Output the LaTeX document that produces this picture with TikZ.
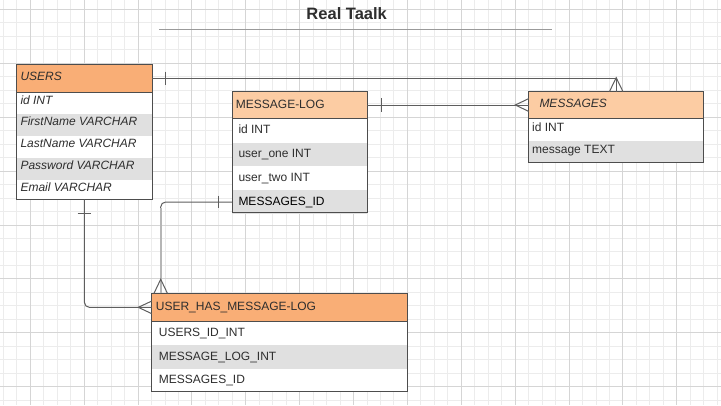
\documentclass[tikz,border=0pt]{standalone}
\usepackage{fontspec}
\setmainfont{Liberation Sans}
\usetikzlibrary{calc}
\definecolor{gridminor}{HTML}{ECECEC}
\definecolor{gridmajor}{HTML}{D5D5D5}
\definecolor{hdrorange}{HTML}{F9AE76}
\definecolor{hdrpeach}{HTML}{FCCCA3}
\definecolor{rowgray}{HTML}{E0E0E0}
\definecolor{edgecol}{HTML}{4D4D4D}
\definecolor{ink}{HTML}{2E2E2E}
\definecolor{wire}{HTML}{5E5E5E}
\definecolor{wirelight}{HTML}{B5B5B5}
\definecolor{rulecol}{HTML}{9A9A9A}
\tikzset{
  tbl/.style={rectangle, anchor=north west, inner sep=0pt, fill=white, draw=none},
  cell/.style={rectangle, anchor=north west, inner sep=0pt, draw=none},
  outline/.style={draw=edgecol, line width=1pt},
  lbl/.style={anchor=west, inner sep=0pt, text=ink, font=\fontsize{12}{14}\selectfont, text height=8.6pt, text depth=0pt, yshift=1pt},
  lbli/.style={lbl, font=\fontsize{12}{14}\selectfont\itshape, yshift=0.8pt},
  conn/.style={draw=wire, line width=1pt},
  minorline/.style={draw=gridminor, line width=1pt},
  majorline/.style={draw=gridmajor, line width=1pt}
}
\begin{document}
\begin{tikzpicture}[x=1pt,y=-1pt]
\useasboundingbox (0,0) rectangle (721,405);
\fill[white] (0,0) rectangle (721,405);
% grid
\foreach \i in {0,...,53} \draw[minorline] ({3.36+13.47*\i},0) -- ({3.36+13.47*\i},405);
\foreach \i in {0,...,29} \draw[minorline] (0,{9.5+13.47*\i}) -- (721,{9.5+13.47*\i});
\foreach \i in {0,...,12} \draw[majorline] ({30.3+53.88*\i},0) -- ({30.3+53.88*\i},405);
\foreach \i in {0,...,7} \draw[majorline] (0,{9.5+53.88*\i}) -- (721,{9.5+53.88*\i});

% title
\node[inner sep=0pt, text=ink, font=\fontsize{16.5}{18}\selectfont\bfseries] (title) at (346.7,14) {Real Taalk};
\draw[draw=rulecol, line width=1.4pt] (159,29.3) -- (551.7,29.3);

% USERS
\node[tbl, minimum width=135pt, minimum height=134.9pt] (users) at (16.7,64.3) {};
\node[cell, fill=hdrorange, minimum width=135pt, minimum height=27.4pt] (usersh) at (users.north west) {};
\node[cell, minimum width=135pt, minimum height=21.5pt] (users1) at (usersh.south west) {};
\node[cell, fill=rowgray, minimum width=135pt, minimum height=21.5pt] (users2) at (users1.south west) {};
\node[cell, minimum width=135pt, minimum height=21.5pt] (users3) at (users2.south west) {};
\node[cell, fill=rowgray, minimum width=135pt, minimum height=21.5pt] (users4) at (users3.south west) {};
\node[cell, minimum width=135pt, minimum height=21.5pt] (users5) at (users4.south west) {};
\draw[outline] (users.north west) rectangle (users.south east);
\draw[outline] (usersh.south west) -- (usersh.south east);
\node[lbli, yshift=0.5pt] (usersht) at ($(usersh.west)+(3.6,0)$) {USERS};
\node[lbli, yshift=1.5pt] (users1t) at ($(users1.west)+(3.6,0)$) {id INT};
\node[lbli, yshift=1.5pt] (users2t) at ($(users2.west)+(3.6,0)$) {FirstName VARCHAR};
\node[lbli, yshift=1.5pt] (users3t) at ($(users3.west)+(3.6,0)$) {LastName VARCHAR};
\node[lbli, yshift=1.5pt] (users4t) at ($(users4.west)+(3.6,0)$) {Password VARCHAR};
\node[lbli, yshift=1.5pt] (users5t) at ($(users5.west)+(3.6,0)$) {Email VARCHAR};

% MESSAGE-LOG
\node[tbl, minimum width=134.7pt, minimum height=120.6pt] (mlog) at (232,91.3) {};
\node[cell, fill=hdrpeach, minimum width=134.7pt, minimum height=27pt] (mlogh) at (mlog.north west) {};
\node[cell, minimum width=134.7pt, minimum height=23.4pt] (mlog1) at (mlogh.south west) {};
\node[cell, fill=rowgray, minimum width=134.7pt, minimum height=23.4pt] (mlog2) at (mlog1.south west) {};
\node[cell, minimum width=134.7pt, minimum height=23.4pt] (mlog3) at (mlog2.south west) {};
\node[cell, fill=rowgray, minimum width=134.7pt, minimum height=23.4pt] (mlog4) at (mlog3.south west) {};
\draw[outline] (mlog.north west) rectangle (mlog.south east);
\draw[outline] (mlogh.south west) -- (mlogh.south east);
\node[lbl] (mloght) at ($(mlogh.west)+(3.7,0)$) {MESSAGE-LOG};
\node[lbl] (mlog1t) at ($(mlog1.west)+(6.3,0)$) {id INT};
\node[lbl] (mlog2t) at ($(mlog2.west)+(6.3,0)$) {user\_one INT};
\node[lbl] (mlog3t) at ($(mlog3.west)+(6.3,0)$) {user\_two INT};
\node[lbl, text=black] (mlog4t) at ($(mlog4.west)+(6.3,0)$) {MESSAGES\_ID};

% MESSAGES
\node[tbl, minimum width=174.6pt, minimum height=70pt] (msgs) at (528.7,91.7) {};
\node[cell, fill=hdrpeach, minimum width=174.6pt, minimum height=26.6pt] (msgsh) at (msgs.north west) {};
\node[cell, minimum width=174.6pt, minimum height=21.7pt] (msgs1) at (msgsh.south west) {};
\node[cell, fill=rowgray, minimum width=174.6pt, minimum height=21.7pt] (msgs2) at (msgs1.south west) {};
\draw[outline] (msgs.north west) rectangle (msgs.south east);
\draw[outline] (msgsh.south west) -- (msgsh.south east);
\node[lbli] (msgsht) at ($(msgsh.west)+(10.6,0)$) {MESSAGES};
\node[lbl, yshift=1.5pt] (msgs1t) at ($(msgs1.west)+(3.3,0)$) {id INT};
\node[lbl, yshift=1.5pt] (msgs2t) at ($(msgs2.west)+(3.3,0)$) {message TEXT};

% USER_HAS_MESSAGE-LOG
\node[tbl, minimum width=255.6pt, minimum height=97.6pt] (uhml) at (151.7,293.3) {};
\node[cell, fill=hdrorange, minimum width=255.6pt, minimum height=27.7pt] (uhmlh) at (uhml.north west) {};
\node[cell, minimum width=255.6pt, minimum height=23.3pt] (uhml1) at (uhmlh.south west) {};
\node[cell, fill=rowgray, minimum width=255.6pt, minimum height=23.3pt] (uhml2) at (uhml1.south west) {};
\node[cell, minimum width=255.6pt, minimum height=23.3pt] (uhml3) at (uhml2.south west) {};
\draw[outline] (uhml.north west) rectangle (uhml.south east);
\draw[outline] (uhmlh.south west) -- (uhmlh.south east);
\node[lbl] (uhmlht) at ($(uhmlh.west)+(4,0)$) {USER\_HAS\_MESSAGE-LOG};
\node[lbl] (uhml1t) at ($(uhml1.west)+(7,0)$) {USERS\_ID\_INT};
\node[lbl] (uhml2t) at ($(uhml2.west)+(7,0)$) {MESSAGE\_LOG\_INT};
\node[lbl] (uhml3t) at ($(uhml3.west)+(7,0)$) {MESSAGES\_ID};

% connector USERS -> MESSAGES
\draw[conn] (usersh.east) -| (msgsh.north);
\draw[conn] ($(usersh.east)+(13.5,-6.7)$) -- ($(usersh.east)+(13.5,6.7)$);
\draw[conn] ($(msgsh.north)+(-6.8,0)$) -- ($(msgsh.north)+(0,-14)$) -- ($(msgsh.north)+(6.8,0)$);

% connector MESSAGE-LOG -> MESSAGES
\draw[conn] (mlogh.east) -- (mlogh.east -| msgsh.west);
\draw[conn] ($(mlogh.east)+(14,-6.7)$) -- ($(mlogh.east)+(14,6.7)$);
\draw[conn] ($(mlogh.east -| msgsh.west)+(0,-6.4)$) -- ($(mlogh.east -| msgsh.west)+(-13.4,0)$) -- ($(mlogh.east -| msgsh.west)+(0,6.4)$);

% connector USERS -> USER_HAS_MESSAGE-LOG
\draw[conn, rounded corners=5pt] (users.south) |- (uhmlh.west);
\draw[conn] ($(users.south)+(-6.7,14)$) -- ($(users.south)+(6.7,14)$);
\draw[conn] ($(uhmlh.west)+(0,-6.3)$) -- ($(uhmlh.west)+(-13.4,0)$) -- ($(uhmlh.west)+(0,6.3)$);

% connector MESSAGE-LOG (MESSAGES_ID) -> USER_HAS_MESSAGE-LOG
\coordinate (uhmltop) at ($(uhml.north west)+(9,0)$);
\draw[conn, rounded corners=5pt] (mlog4.west) -| (uhmltop);
\draw[draw=wirelight, line width=1.8pt] ($(mlog4.west -| uhmltop)+(0,6)$) -- (uhmltop);
\draw[conn] ($(mlog4.west)+(-13.3,-6.3)$) -- ($(mlog4.west)+(-13.3,6.3)$);
\draw[conn] ($(uhmltop)+(-6.7,0)$) -- ($(uhmltop)+(0,-14)$) -- ($(uhmltop)+(6.7,0)$);
\end{tikzpicture}
\end{document}
